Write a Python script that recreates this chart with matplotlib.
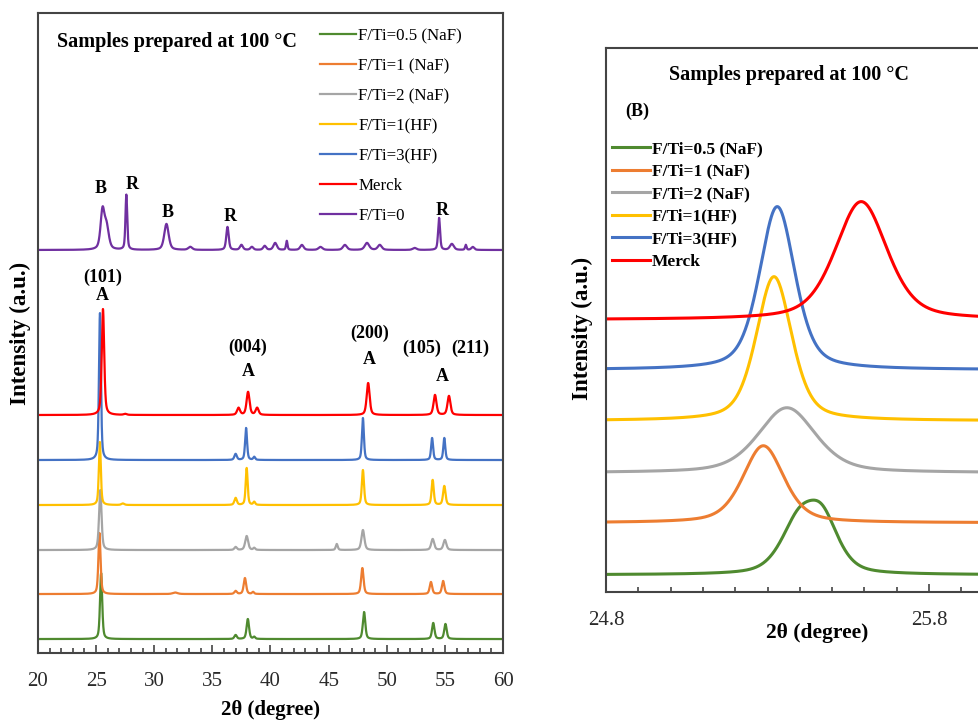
import numpy as np
import matplotlib
matplotlib.use("Agg")
import matplotlib.pyplot as plt
from matplotlib.ticker import MultipleLocator, FixedLocator

plt.rcParams["font.family"] = ["Liberation Serif", "DejaVu Serif"]

# series (same order as both legends)
labels = ["F/Ti=0.5 (NaF)", "F/Ti=1 (NaF)", "F/Ti=2 (NaF)", "F/Ti=1(HF)",
          "F/Ti=3(HF)", "Merck", "F/Ti=0"]
colors = ["#4f8a2f", "#ed7d31", "#a5a5a5", "#ffc000", "#4472c4", "#ff0000", "#7030a0"]

# ---- (A) full patterns 20-60 deg: stacking offsets + peaks (pos, height, fwhm) ----
offsets_a = [14, 59, 103, 148, 193, 238, 403]
peaks_green = [(25.43, 66, 0.22), (37.0, 4, 0.25), (38.05, 20, 0.25), (38.6, 2, 0.2),
               (48.05, 27, 0.25), (54.0, 16, 0.25), (55.05, 15, 0.25)]
peaks_orange = [(25.29, 61, 0.22), (31.8, 1.5, 0.5), (37.0, 3, 0.25), (37.8, 16, 0.25),
                (38.5, 2, 0.2), (47.9, 26, 0.25), (53.8, 12, 0.25), (54.85, 13, 0.25)]
peaks_gray = [(25.36, 60, 0.25), (37.0, 3, 0.25), (37.95, 14, 0.3), (38.6, 2, 0.2),
              (45.7, 6, 0.2), (47.95, 20, 0.3), (53.95, 11, 0.3), (55.0, 10, 0.3)]
peaks_yellow = [(25.32, 63, 0.2), (27.3, 1.5, 0.3), (37.0, 7, 0.25), (37.95, 37, 0.2),
                (38.6, 3, 0.2), (47.95, 35, 0.22), (53.95, 25, 0.22), (54.95, 19, 0.25)]
peaks_blue = [(25.33, 147, 0.2), (37.0, 6, 0.25), (37.9, 32, 0.2), (38.6, 3, 0.2),
              (47.95, 42, 0.2), (53.9, 22, 0.2), (54.95, 22, 0.2)]
peaks_red = [(25.59, 106, 0.25), (27.5, 1, 0.3), (37.25, 7, 0.3), (38.07, 23, 0.3),
             (38.85, 7, 0.3), (48.4, 32, 0.3), (54.15, 20, 0.3), (55.35, 19, 0.3)]
peaks_purple = [(25.55, 38, 0.4), (25.9, 22, 0.45), (27.6, 55, 0.18), (31.05, 26, 0.45),
                (33.1, 3, 0.4), (36.3, 23, 0.25), (37.5, 5, 0.3), (38.4, 3, 0.3),
                (39.5, 4, 0.3), (40.4, 7, 0.35), (41.4, 9, 0.15), (42.7, 5, 0.35),
                (44.3, 3, 0.4), (46.4, 5, 0.4), (48.3, 7, 0.45), (49.4, 5, 0.4),
                (52.4, 2, 0.4), (54.5, 32, 0.2), (55.6, 6, 0.4), (56.8, 5, 0.15),
                (57.4, 3, 0.3)]
peaks_a = [peaks_green, peaks_orange, peaks_gray, peaks_yellow, peaks_blue,
           peaks_red, peaks_purple]

# phase / plane labels on panel A: (text, 2theta, y)
marks_a = [("B", 25.38, 464), ("R", 28.14, 468), ("B", 31.13, 440), ("R", 36.55, 436),
           ("R", 54.74, 442), ("(101)", 25.56, 376), ("A", 25.56, 357),
           ("(004)", 38.0, 306), ("A", 38.1, 282), ("(200)", 48.5, 320), ("A", 48.5, 294),
           ("(105)", 53.02, 305), ("(211)", 57.14, 305), ("A", 54.82, 277)]

# ---- (B) zoom on the (101) reflection ----
offsets_b = [17, 69, 119, 171, 222, 272]
peaks_b = [
    [(25.395, 48, 0.13), (25.47, 50, 0.12)],   # F/Ti=0.5 (NaF), flat top
    [(25.287, 77, 0.15)],
    [(25.36, 65, 0.21)],
    [(25.32, 144, 0.13)],
    [(25.33, 163, 0.13)],
    [(25.59, 118, 0.19)],
]


def profile(x, peaks, eta=0.5):
    y = np.zeros_like(x)
    for c, h, w in peaks:
        d = (x - c) / w
        y += h * (eta / (1 + 4 * d ** 2) + (1 - eta) * np.exp(-4 * np.log(2) * d ** 2))
    return y


def style_axes(ax):
    for s in ax.spines.values():
        s.set_color("#444444")
        s.set_linewidth(1.5)
    ax.set_yticks([])
    ax.tick_params(axis="x", which="both", direction="in", colors="#444444",
                   labelcolor="#2a2a2a", labelsize=15, pad=14, width=1.2)
    ax.tick_params(axis="x", which="major", length=6)
    ax.tick_params(axis="x", which="minor", length=3.5)


fig = plt.figure(figsize=(9.79, 7.2), dpi=100)

# panel A
ax1 = fig.add_axes([0.0388, 0.093, 0.475, 0.889])
x1 = np.linspace(20, 60, 6000)
for lab, col, off, pk in zip(labels, colors, offsets_a, peaks_a):
    ax1.plot(x1, off + profile(x1, pk), color=col, lw=1.6, label=lab)
ax1.set_xlim(20, 60)
ax1.set_ylim(0, 640)
ax1.xaxis.set_major_locator(MultipleLocator(5))
ax1.xaxis.set_minor_locator(MultipleLocator(1))
style_axes(ax1)
ax1.set_xlabel("2θ (degree)", fontsize=15, fontweight="bold")
ax1.xaxis.set_label_coords(0.501, -0.073)
ax1.set_ylabel("Intensity (a.u.)", fontsize=16.5, fontweight="bold")
ax1.yaxis.set_label_coords(-0.014, 0.5)
ax1.text(0.298, 0.955, "Samples prepared at 100 °C", transform=ax1.transAxes,
         ha="center", va="center", fontsize=14.5, fontweight="bold")
for txt, xm, ym in marks_a:
    ax1.text(xm, ym, txt, ha="center", va="center", fontsize=13, fontweight="bold")
fig.legend(*ax1.get_legend_handles_labels(), loc="upper left",
           bbox_to_anchor=(320 / 979, 1 - 28 / 720), bbox_transform=fig.transFigure,
           frameon=False, fontsize=12.2, handlelength=2.1, handletextpad=0.15,
           labelspacing=0.83, borderpad=0, borderaxespad=0)

# panel B (right spine runs off the figure)
ax2 = fig.add_axes([0.619, 0.178, 0.396, 0.756])
x2 = np.linspace(24.8, 26.0, 2000)
for lab, col, off, pk in zip(labels[:6], colors[:6], offsets_b, peaks_b):
    ax2.plot(x2, off + profile(x2, pk, eta=0.45), color=col, lw=2.2, label=lab)
ax2.set_xlim(24.8, 26.0)
ax2.set_ylim(0, 544)
ax2.xaxis.set_major_locator(FixedLocator([24.8, 25.8]))
ax2.xaxis.set_minor_locator(MultipleLocator(0.1))
ax2.set_xticklabels(["24.8", "25.8"])
style_axes(ax2)
ax2.set_xlabel("2θ (degree)", fontsize=15.5, fontweight="bold")
ax2.xaxis.set_label_coords(0.544, -0.057)
ax2.set_ylabel("Intensity (a.u.)", fontsize=16.5, fontweight="bold")
ax2.yaxis.set_label_coords(-0.0335, 0.483)
ax2.text(0.472, 0.950, "Samples prepared at 100 °C", transform=ax2.transAxes,
         ha="center", va="center", fontsize=14.5, fontweight="bold")
ax2.text(0.08, 0.882, "(B)", transform=ax2.transAxes,
         ha="center", va="center", fontsize=13, fontweight="bold")
ax2.legend(loc="upper left", bbox_to_anchor=(612 / 979, 1 - 141 / 720),
           bbox_transform=fig.transFigure, frameon=False,
           prop={"size": 12.5, "weight": "bold"}, handlelength=2.2,
           handletextpad=0.1, labelspacing=0.37, borderpad=0, borderaxespad=0)

fig.savefig("out.png", dpi=100)
